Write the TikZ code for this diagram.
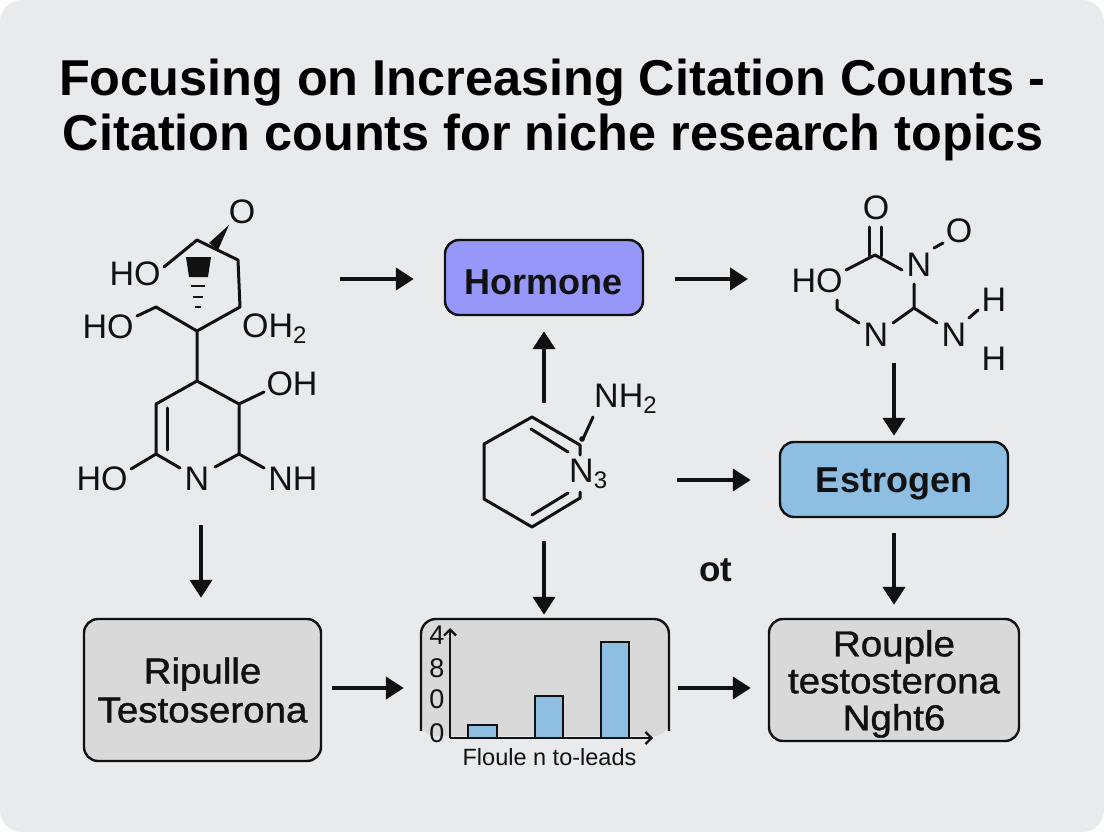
\documentclass[tikz,border=0pt]{standalone}
\usepackage{fontspec}
\setmainfont{Liberation Sans}
\newfontfamily\medsans[FakeBold=1.2,FakeStretch=1.07]{Liberation Sans}
\usetikzlibrary{arrows.meta}
\definecolor{pagebg}{HTML}{E9EAEC}
\definecolor{boxgrey}{HTML}{D9D9DA}
\definecolor{boxblue}{HTML}{8FBEE3}
\definecolor{boxviolet}{HTML}{9697F9}
\definecolor{inkline}{HTML}{111111}
\newcommand{\subdig}[1]{{\fontsize{24}{24}\selectfont\raisebox{-6pt}{#1}}}
\tikzset{
  flow/.style={draw=inkline,line width=4.2pt,-{Triangle[length=18pt,width=22pt]}},
  bond/.style={draw=inkline,line width=3pt,line cap=round,line join=round},
  atom/.style={inner sep=0pt,font=\fontsize{34}{36}\selectfont,text=inkline},
  box/.style={draw=inkline,line width=2.4pt,rounded corners=14pt,align=center,text=inkline,inner sep=0pt},
  tick/.style={inner sep=0pt,font=\fontsize{27}{28}\selectfont,text=inkline},
  bar/.style={draw=inkline,line width=2.4pt,fill=boxblue},
  titleline/.style={inner sep=0pt,anchor=base,text=black,font=\fontsize{50.4}{56}\selectfont\bfseries},
}
\begin{document}
\begin{tikzpicture}[x=1pt,y=-1pt]
  \useasboundingbox (0,0) rectangle (1104,832);
  \fill[white] (0,0) rectangle (1104,832);
  \fill[pagebg,rounded corners=22pt] (0,0) rectangle (1104,832);
  % title
  \node[titleline] (titlea) at (552,96) {Focusing on Increasing Citation Counts -};
  \node[titleline] (titleb) at (553,151) {Citation counts for niche research topics};
  % boxes
  \node[box,fill=boxviolet,minimum width=198pt,minimum height=75pt,font=\fontsize{36}{38}\selectfont\bfseries] (hormone) at (544,277.5) {\rule{0pt}{34pt}Hormone};
  \node[box,fill=boxblue,minimum width=228pt,minimum height=75pt,font=\fontsize{36}{38}\selectfont\bfseries] (estrogen) at (894,479.5) {\rule{0pt}{34pt}Estrogen};
  \node[box,fill=boxgrey,minimum width=237pt,minimum height=142pt,font=\medsans\fontsize{36}{39}\selectfont] (ripulle) at (202.5,690) {Ripulle\\Testoserona};
  \node[box,fill=boxgrey,minimum width=250pt,minimum height=122pt,font=\medsans\fontsize{36}{37}\selectfont] (rouple) at (894,680) {\rule{0pt}{34pt}Rouple\\testosterona\\Nght6};
  \node[inner sep=0pt,minimum width=248pt,minimum height=112pt] (chart) at (545,675) {};
  % chart
  \fill[boxgrey,rounded corners=15pt] (421,736) -- (421,619) -- (669,619) -- (669,736) -- cycle;
  \coordinate (cha) at (421,731);
  \coordinate (chb) at (669,731);
  \draw[draw=inkline,line width=2.4pt,rounded corners=15pt] (cha) -- (421,619) -- (669,619) -- (chb);
  \draw[bar] (468,738) rectangle (497,725);
  \draw[bar] (535,738) rectangle (563,696);
  \draw[bar] (601,738) rectangle (629,642);
  \coordinate (orig) at (450,738);
  \draw[draw=inkline,line width=2.2pt,-{Straight Barb[length=6pt,width=12pt]}] (orig) -- (450,628);
  \draw[draw=inkline,line width=2.2pt,-{Straight Barb[length=6pt,width=12pt]}] (orig) -- (653,738);
  \node[tick] (ticka) at (437,635) {4};
  \node[tick] (tickb) at (437,668) {8};
  \node[tick] (tickc) at (437,699) {0};
  \node[tick] (tickd) at (437,733) {0};
  \node[inner sep=0pt,text=inkline,font=\fontsize{23.5}{25}\selectfont] (chartlabel) at (549.5,757) {Floule n to-leads};
  % stray label
  \node[inner sep=0pt,text=inkline,font=\fontsize{35}{37}\selectfont\bfseries] (stray) at (716,570) {ot};
  % arrows
  \coordinate (mola) at (340,279);
  \coordinate (molcl) at (748,279);
  \coordinate (molb) at (544,403);
  \coordinate (molbr) at (677,480);
  \coordinate (molbd) at (544,541);
  \coordinate (molc) at (894,363);
  \coordinate (mold) at (201,525);
  \draw[flow,shorten >=30pt] (mola) -- (hormone.west |- mola);
  \draw[flow,shorten <=31pt] (hormone.east |- molcl) -- (molcl);
  \draw[flow,shorten >=15pt] (molb) -- (hormone.south);
  \draw[flow,shorten >=28pt] (molbr) -- (estrogen.west |- molbr);
  \draw[flow,shorten >=5pt] (molc) -- (estrogen.north);
  \draw[flow,shorten <=15pt,shorten >=13pt] (estrogen.south) -- (rouple.north);
  \draw[flow,shorten >=20pt] (mold) -- (ripulle.north -| mold);
  \draw[flow,shorten >=4pt] (molbd) -- (chart.north -| molbd);
  \draw[flow,shorten <=10pt,shorten >=17pt] (ripulle.east |- 0,688) -- (chart.west |- 0,688);
  \draw[flow,shorten <=9pt,shorten >=17pt] (chart.east |- 0,688) -- (rouple.west |- 0,688);
  % left molecule
  \node[atom] (oa) at (242,212) {O};
  \node[atom] (hoa) at (135,274) {HO};
  \node[atom] (hob) at (108,327) {HO};
  \node[atom,anchor=west] (oh) at (242,329) {OH\subdig{2}};
  \node[atom] (ohb) at (292,384) {OH};
  \node[atom] (hoc) at (102,479) {HO};
  \node[atom] (na) at (197,479) {N};
  \node[atom] (nh) at (293,479) {NH};
  \coordinate (la) at (197,240);
  \coordinate (lb) at (238,260);
  \coordinate (lc) at (240,307);
  \coordinate (ld) at (197,331);
  \coordinate (le) at (156,307);
  \coordinate (lf) at (197,381);
  \coordinate (lg) at (156,404);
  \coordinate (lh) at (156,454);
  \coordinate (li) at (239,454);
  \coordinate (lj) at (239,404);
  \draw[bond] (164,267) -- (la) -- (lb) -- (lc) -- (ld) -- (le) -- (137,316);
  \draw[bond] (ld) -- (lf) -- (lg) -- (lh) -- (180,468);
  \draw[bond] (lh) -- (131,469);
  \draw[bond] (167,408) -- (167,450);
  \draw[bond] (215,467) -- (li) -- (lj) -- (lf);
  \draw[bond] (lj) -- (264,392);
  \draw[bond] (li) -- (264,468);
  \fill[inkline] (209,243) -- (218,250) -- (229,225) -- cycle;
  \fill[inkline] (186,257) -- (211,257) -- (208,277) -- (189,277) -- cycle;
  \draw[inkline,line width=2.6pt] (191,286) -- (205,286);
  \draw[inkline,line width=2.6pt] (193,297) -- (203,297);
  \draw[inkline,line width=2.6pt] (195,307) -- (201,307);
  % right molecule
  \node[atom] (ob) at (876,208) {O};
  \node[atom] (oc) at (959,231) {O};
  \node[atom] (nb) at (919,265) {N};
  \node[atom] (hod) at (817,281) {HO};
  \node[atom] (nc) at (876,335) {N};
  \node[atom] (nd) at (954,335) {N};
  \node[atom] (ha) at (994,300) {H};
  \node[atom] (hb) at (994,359) {H};
  \coordinate (ra) at (875,255);
  \coordinate (rb) at (914,308);
  \draw[bond] (869,227) -- (869,256);
  \draw[bond] (881,227) -- (881,256);
  \draw[bond] (846,270) -- (ra) -- (902,270);
  \draw[bond] (934,248) -- (943,243);
  \draw[bond] (914,284) -- (rb) -- (893,323);
  \draw[bond] (rb) -- (937,323);
  \draw[bond] (969,318) -- (978,310);
  \draw[bond] (837,300) -- (837,309) -- (859,323);
  % middle molecule
  \node[atom,anchor=west] (ne) at (594,399) {NH\subdig{2}};
  \node[atom,anchor=west] (nf) at (569,474) {N\subdig{3}};
  \coordinate (ma) at (532,417);
  \coordinate (mb) at (484,444);
  \coordinate (mc) at (484,499);
  \coordinate (md) at (532,527);
  \draw[bond] (580,455) -- (580,445) -- (ma) -- (mb) -- (mc) -- (md) -- (580,498) -- (580,492);
  \draw[bond] (531,429) -- (568,452);
  \draw[bond] (532,515) -- (568,493);
  \draw[bond] (593,417) -- (583,439);
  \fill[inkline] (582,439) circle (2.8pt);
\end{tikzpicture}
\end{document}
